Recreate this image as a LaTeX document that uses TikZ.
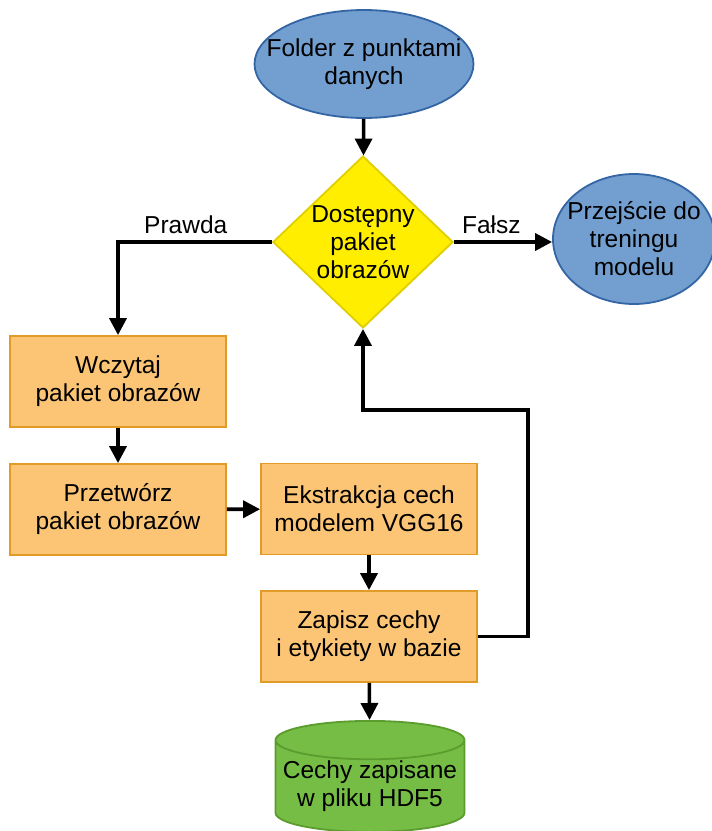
\documentclass[tikz,border=0pt]{standalone}
\usepackage{fontspec}
\setmainfont{Liberation Sans}
\usetikzlibrary{arrows.meta}
\usetikzlibrary{shapes.geometric}
\definecolor{termfill}{HTML}{729FCF}
\definecolor{termline}{HTML}{3465A4}
\definecolor{decfill}{HTML}{FFEE00}
\definecolor{decline}{HTML}{E0CF00}
\definecolor{procfill}{HTML}{FCC575}
\definecolor{procline}{HTML}{E39B27}
\definecolor{storefill}{HTML}{75BD45}
\definecolor{storeline}{HTML}{5A9C2E}

\begin{document}
\begin{tikzpicture}[x=1pt,y=-1pt,>={Triangle[length=17pt,width=17pt]},
    font=\fontsize{24.5pt}{28pt}\selectfont,
    terminal/.style={ellipse,draw=termline,fill=termfill,line width=1.8pt,inner xsep=-20pt,inner ysep=0pt,align=center,minimum width=219pt,minimum height=108pt},
    decision/.style={diamond,draw=decline,fill=decfill,line width=1.8pt,inner sep=0pt,align=center,aspect=1.05,minimum width=180pt,minimum height=172pt},
    process/.style={rectangle,draw=procline,fill=procfill,line width=1.8pt,align=center,minimum width=216pt,minimum height=91pt},
    storage/.style={cylinder,shape border rotate=90,aspect=0.22,draw=storeline,fill=storefill,line width=1.8pt,inner sep=0pt,align=center,minimum width=189pt,minimum height=111pt},
    flow/.style={->,line width=3.6pt}]
        \useasboundingbox (0,0) rectangle (712,831);
        \node[terminal] (folder) at (364,64) {Folder z punktami\\danych};
        \node[decision] (dostepny) at (363,242) {Dostępny\\pakiet\\obrazów};
        \node[terminal,minimum width=162pt,minimum height=130pt] (trening) at (634,239) {Przejście do\\treningu\\modelu};
        \node[process] (wczytaj) at (118,381.5) {Wczytaj\\pakiet obrazów};
        \node[process] (przetworz) at (118,509.5) {Przetwórz\\pakiet obrazów};
        \node[process] (ekstrakcja) at (369,509) {Ekstrakcja cech\\modelem VGG16};
        \node[process] (zapisz) at (369,636.5) {Zapisz cechy\\i etykiety w bazie};
        \node[storage,anchor=north] (hdf) at (370,720) {Cechy zapisane\\w pliku HDF5};
        \coordinate (petla) at (528,410);
        \draw[flow] (folder) -- (dostepny);
        \draw[flow] (dostepny.west) -| node[pos=0.28,above,yshift=3pt] {Prawda} (wczytaj.north);
        \draw[flow] (dostepny.east) -- node[pos=0.38,above,yshift=3pt] {Fałsz} (dostepny.east -| trening.west);
        \draw[flow] (wczytaj) -- (przetworz);
        \draw[flow] (przetworz) -- (ekstrakcja);
        \draw[flow] (ekstrakcja) -- (zapisz);
        \draw[flow] (zapisz.east) -| (petla) -| (dostepny.south);
        \draw[flow] (zapisz) -- (hdf);
      \end{tikzpicture}
\end{document}
